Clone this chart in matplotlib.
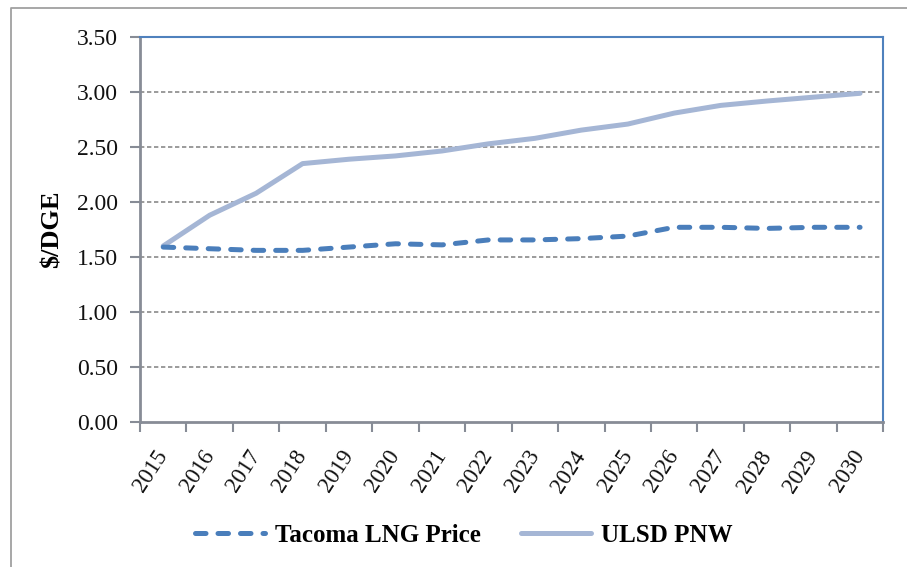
import matplotlib
matplotlib.use("Agg")
import matplotlib.pyplot as plt
from matplotlib.lines import Line2D
import numpy as np

years = [str(y) for y in range(2015, 2031)]
lng_price = [1.59, 1.575, 1.56, 1.56, 1.59, 1.62, 1.61, 1.655, 1.655, 1.667,
             1.69, 1.77, 1.77, 1.76, 1.77, 1.77]
ulsd_pnw = [1.60, 1.88, 2.08, 2.35, 2.39, 2.42, 2.465, 2.53, 2.58, 2.655,
            2.71, 2.81, 2.88, 2.92, 2.955, 2.99]
y_ticks = [0.0, 0.5, 1.0, 1.5, 2.0, 2.5, 3.0, 3.5]

plt.rcParams['font.family'] = ['Liberation Serif', 'DejaVu Serif']

W, H = 907, 567
fig = plt.figure(figsize=(W / 100, H / 100), dpi=100)
ax = fig.add_axes([140 / W, 1 - 421.7 / H, (883.3 - 140) / W, (421.7 - 37.3) / H])

x = np.arange(len(years))
ax.set_xlim(-0.5, len(years) - 0.5)
ax.set_ylim(0, 3.5)

blue_border = '#4F81BD'
gray_axis = '#878C96'

for s in ['top', 'right']:
    ax.spines[s].set_color(blue_border)
    ax.spines[s].set_linewidth(1.5)
for s in ['left', 'bottom']:
    ax.spines[s].set_color(gray_axis)
    ax.spines[s].set_linewidth(2.0)

ax.set_yticks(y_ticks)
ax.set_yticklabels([f"{v:.2f}" for v in y_ticks])
ax.tick_params(axis='y', direction='out', length=7, width=1.5, color=gray_axis,
               labelsize=17, pad=9, labelcolor='#111111')

ax.set_xticks(np.arange(len(years) + 1) - 0.5)
ax.set_xticklabels([])
ax.tick_params(axis='x', which='major', direction='out', length=7, width=1.5, color=gray_axis)
ax.set_xticks(x, minor=True)
ax.set_xticklabels(years, minor=True, rotation=57, ha='right', va='center',
                   rotation_mode='anchor', fontsize=16.5, color='#111111')
ax.tick_params(axis='x', which='minor', length=0, pad=22)

for v in y_ticks[1:]:
    ax.axhline(v, color='#8A8A8A', lw=1.2, ls=(0, (2.6, 1.6)), zorder=1)

ax.plot(x, ulsd_pnw, color='#A5B6D5', lw=3.6, solid_capstyle='round',
        solid_joinstyle='round', label='ULSD PNW', zorder=3)
ax.plot(x, lng_price, color='#4A7EBB', lw=3.6, ls=(0, (2.1, 2.4)),
        dash_capstyle='round', label='Tacoma LNG Price', zorder=4)

ax.set_ylabel('$/DGE', fontsize=19, fontweight='bold')
ax.yaxis.set_label_coords((64 - 140) / 743, 0.5)

handles, labels = ax.get_legend_handles_labels()
leg = fig.legend(handles[::-1], labels[::-1], loc='center', ncol=2,
                 bbox_to_anchor=(464 / W, 1 - 535 / H), frameon=False,
                 prop={'size': 18, 'weight': 'bold'}, handlelength=2.8,
                 handletextpad=0.4, columnspacing=1.6)

# outer chart frame
fig.add_artist(Line2D([11 / W, 11 / W, 1.0], [0, 1 - 8 / H, 1 - 8 / H],
                      transform=fig.transFigure, color='#A0A0A0', lw=1.3))

fig.savefig('out.png', dpi=100)
